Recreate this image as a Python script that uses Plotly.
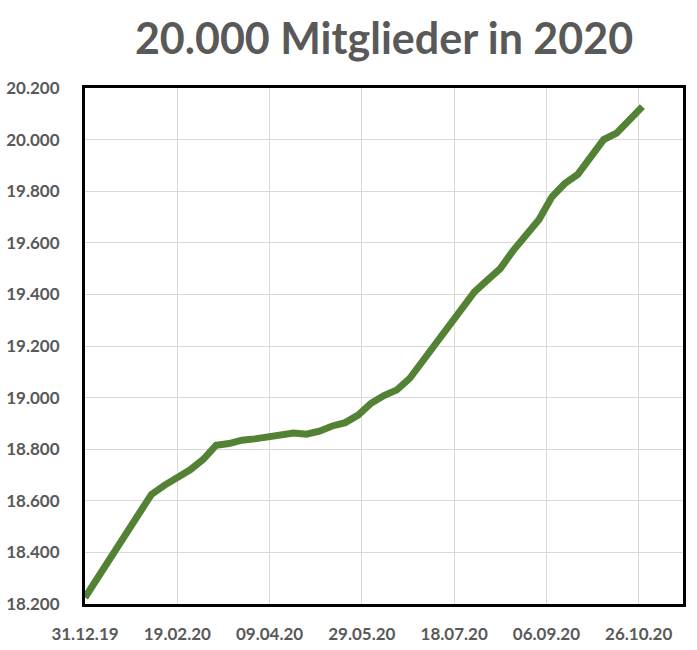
import plotly.graph_objects as go

dates = ["2019-12-31", "2020-02-05", "2020-02-12", "2020-02-19", "2020-02-26",
         "2020-03-04", "2020-03-11", "2020-03-18", "2020-03-25", "2020-04-01",
         "2020-04-08", "2020-04-15", "2020-04-22", "2020-04-29", "2020-05-06",
         "2020-05-13", "2020-05-20", "2020-05-27", "2020-06-03", "2020-06-10",
         "2020-06-17", "2020-06-24", "2020-07-01", "2020-07-08", "2020-07-15",
         "2020-07-22", "2020-07-29", "2020-08-05", "2020-08-12", "2020-08-19",
         "2020-08-26", "2020-09-02", "2020-09-09", "2020-09-16", "2020-09-23",
         "2020-09-30", "2020-10-07", "2020-10-14", "2020-10-21", "2020-10-28"]
members = [18225, 18625, 18660, 18690, 18720,
           18760, 18815, 18822, 18835, 18840,
           18848, 18856, 18863, 18858, 18870,
           18890, 18903, 18932, 18978, 19008,
           19030, 19075, 19140, 19210, 19280,
           19340, 19410, 19455, 19500, 19570,
           19625, 19690, 19778, 19830, 19865,
           19930, 20000, 20025, 20075, 20128]

x_tick_vals = ["2019-12-31", "2020-02-19", "2020-04-09", "2020-05-29",
               "2020-07-18", "2020-09-06", "2020-10-26"]
x_tick_text = ["31.12.19", "19.02.20", "09.04.20", "29.05.20",
               "18.07.20", "06.09.20", "26.10.20"]
y_ticks = [18200, 18400, 18600, 18800, 19000, 19200, 19400, 19600, 19800, 20000, 20200]

title = "20.000 Mitglieder in 2020"

fig = go.Figure()
fig.add_trace(go.Scatter(
    x=dates, y=members, mode="lines",
    line=dict(color="#548235", width=7),
    hoverinfo="skip", showlegend=False,
))

tick_font = dict(family="Lato", size=17, color="#595959")

W, H = 697, 650
fig.update_layout(
    width=W, height=H,
    margin=dict(l=85, r=14, t=88, b=46, autoexpand=False),
    paper_bgcolor="white", plot_bgcolor="white",
    separators=",.",
    title=dict(text="<b>" + title + "</b>", x=384 / W, xanchor="center",
               y=1 - 39 / H, yanchor="middle",
               font=dict(family="Lato", size=43, color="#595959")),
    xaxis=dict(
        type="date", range=["2019-12-31", "2020-11-19"],
        tickmode="array", tickvals=x_tick_vals, ticktext=["<b>%s</b>" % t for t in x_tick_text],
        tickfont=tick_font, ticklabelstandoff=13, automargin=False,
        showgrid=True, gridcolor="#d9d9d9", gridwidth=1,
        showline=True, linecolor="black", linewidth=3, mirror=True,
        ticks="", zeroline=False,
    ),
    yaxis=dict(
        range=[18200, 20200],
        tickmode="array", tickvals=y_ticks,
        ticktext=["<b>%s</b>" % f"{v:,}".replace(",", ".") for v in y_ticks],
        tickfont=tick_font, ticklabelstandoff=19, automargin=False,
        showgrid=True, gridcolor="#d9d9d9", gridwidth=1,
        showline=True, linecolor="black", linewidth=3, mirror=True,
        ticks="", zeroline=False,
    ),
)

fig.write_html("out.html", config={"displayModeBar": False},
               post_script="document.body.style.margin='0px';")
